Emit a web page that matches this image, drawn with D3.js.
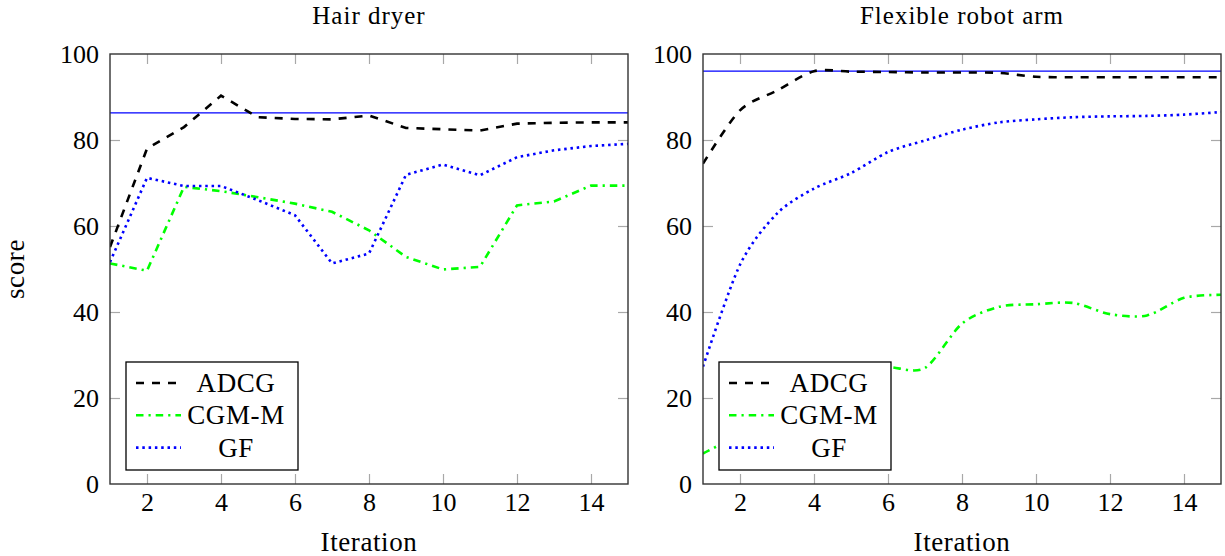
<!DOCTYPE html>
<html>
<head>
<meta charset="utf-8">
<script src="https://cdn.jsdelivr.net/npm/d3@7"></script>
<style>
body { margin: 0; background: #fff; }
text { font-family: "Liberation Serif", "DejaVu Serif", serif; fill: #000; }
</style>
</head>
<body>
<div id="chart"></div>
<script>
// values
var iterations = [1, 2, 3, 4, 5, 6, 7, 8, 9, 10, 11, 12, 13, 14, 15];

var hairADCG = [55.1, 78.0, 83.0, 90.3, 85.3, 84.9, 84.8, 85.7, 82.8, 82.5, 82.2, 83.8, 84.0, 84.1, 84.1];
var hairCGM  = [51.3, 49.6, 69.1, 68.1, 66.7, 65.2, 63.3, 59.0, 52.8, 49.9, 50.5, 64.8, 65.7, 69.4, 69.4];
var hairGF   = [51.6, 71.2, 69.3, 69.3, 66.0, 62.5, 51.3, 53.6, 71.9, 74.3, 71.8, 76.0, 77.6, 78.6, 79.1];
var hairRef  = 86.3;

var robotADCG = [74.5, 86.9, 91.5, 96.0, 95.9, 95.8, 95.7, 95.7, 95.6, 94.7, 94.6, 94.6, 94.6, 94.6, 94.6];
var robotCGM  = [7.1, 12.0, 20.0, 25.0, 27.0, 27.2, 27.0, 37.3, 41.2, 41.8, 42.1, 39.5, 39.2, 43.3, 44.0];
var robotGF   = [27.3, 51.0, 62.9, 68.7, 72.3, 77.2, 79.9, 82.4, 84.1, 84.8, 85.3, 85.5, 85.6, 85.9, 86.5];
var robotRef  = 96.0;

var seriesNames = ["ADCG", "CGM-M", "GF"];
var panelTitles = ["Hair dryer", "Flexible robot arm"];
var xTicks = [2, 4, 6, 8, 10, 12, 14];
var yTicks = [0, 20, 40, 60, 80, 100];

var seriesStyles = [
    {color: "#000000", dash: "8,8"},
    {color: "#00ff00", dash: "7.5,5,2.2,5"},
    {color: "#0000ff", dash: "2.5,3.8"}
];

var plotW = 518, plotH = 430, plotTop = 54;

var svg = d3.select("#chart")
    .append("svg")
    .attr("width", 1225)
    .attr("height", 556);

var panels = [
    {title: panelTitles[0], left: 110, series: [hairADCG, hairCGM, hairGF], ref: hairRef, curve: d3.curveLinear},
    {title: panelTitles[1], left: 703, series: [robotADCG, robotCGM, robotGF], ref: robotRef, curve: d3.curveCardinal.tension(0.15)}
];

var x = d3.scaleLinear().domain([1, 15]).range([0, plotW]);
var y = d3.scaleLinear().domain([0, 100]).range([plotH, 0]);

panels.forEach(function(p, pi) {
    var g = svg.append("g").attr("transform", "translate(" + p.left + "," + plotTop + ")");

    g.append("clipPath").attr("id", "clip" + pi)
        .append("rect").attr("width", plotW).attr("height", plotH);

    // ticks on all four sides, pointing inwards
    var bottom = g.append("g").attr("transform", "translate(0," + plotH + ")")
        .call(d3.axisBottom(x).tickValues(xTicks).tickSize(-10).tickPadding(9));
    var topAx = g.append("g")
        .call(d3.axisTop(x).tickValues(xTicks).tickSize(-10).tickFormat(""));
    var leftAx = g.append("g")
        .call(d3.axisLeft(y).tickValues(yTicks).tickSize(-10).tickPadding(11));
    var rightAx = g.append("g").attr("transform", "translate(" + plotW + ",0)")
        .call(d3.axisRight(y).tickValues(yTicks.slice(1, 5)).tickSize(-10).tickFormat(""));
    leftAx.selectAll(".tick").filter(function(d) { return d === 0 || d === 100; }).select("line").remove();

    [bottom, topAx, leftAx, rightAx].forEach(function(a) {
        a.select(".domain").remove();
        a.selectAll(".tick line").attr("stroke", "#a8a8a8").attr("stroke-width", 1.2);
        a.selectAll(".tick text")
            .style("font-family", "'Liberation Serif', serif")
            .style("font-size", "26px")
            .attr("fill", "#000");
    });

    var lineGen = d3.line()
        .x(function(d, i) { return x(iterations[i]); })
        .y(function(d) { return y(d); })
        .curve(p.curve);

    var plot = g.append("g").attr("clip-path", "url(#clip" + pi + ")");

    plot.append("line")
        .attr("x1", x(1)).attr("x2", x(15))
        .attr("y1", y(p.ref)).attr("y2", y(p.ref))
        .attr("stroke", "#0000ff")
        .attr("stroke-width", 1.2);

    p.series.forEach(function(s, si) {
        plot.append("path")
            .datum(s)
            .attr("fill", "none")
            .attr("stroke", seriesStyles[si].color)
            .attr("stroke-width", 2.6)
            .attr("stroke-dasharray", seriesStyles[si].dash)
            .attr("d", lineGen);
    });

    g.append("rect")
        .attr("width", plotW)
        .attr("height", plotH)
        .attr("fill", "none")
        .attr("stroke", "#333")
        .attr("stroke-width", 1.4);

    // legend
    var leg = g.append("g").attr("transform", "translate(16," + (plotH - 122) + ")");
    leg.append("rect")
        .attr("width", 172)
        .attr("height", 108)
        .attr("fill", "#fff")
        .attr("stroke", "#000")
        .attr("stroke-width", 1.3);
    seriesNames.forEach(function(name, si) {
        var cy = 21 + si * 32.3;
        leg.append("line")
            .attr("x1", 10).attr("x2", 55)
            .attr("y1", cy).attr("y2", cy)
            .attr("stroke", seriesStyles[si].color)
            .attr("stroke-width", 2.6)
            .attr("stroke-dasharray", seriesStyles[si].dash);
        leg.append("text")
            .attr("x", 110)
            .attr("y", cy + 9)
            .attr("text-anchor", "middle")
            .style("font-size", "27px")
            .style("letter-spacing", "0.6px")
            .text(name);
    });

    svg.append("text")
        .attr("x", p.left + plotW / 2)
        .attr("y", 24)
        .attr("text-anchor", "middle")
        .style("font-size", "25px")
        .style("letter-spacing", "1px")
        .text(p.title);

    svg.append("text")
        .attr("x", p.left + plotW / 2)
        .attr("y", 551)
        .attr("text-anchor", "middle")
        .style("font-size", "27px")
        .style("letter-spacing", "0.6px")
        .text("Iteration");
});

svg.append("text")
    .attr("transform", "translate(24," + (plotTop + plotH / 2) + ") rotate(-90)")
    .attr("text-anchor", "middle")
    .style("font-size", "27px")
    .style("letter-spacing", "0.6px")
    .text("score");
</script>
</body>
</html>
